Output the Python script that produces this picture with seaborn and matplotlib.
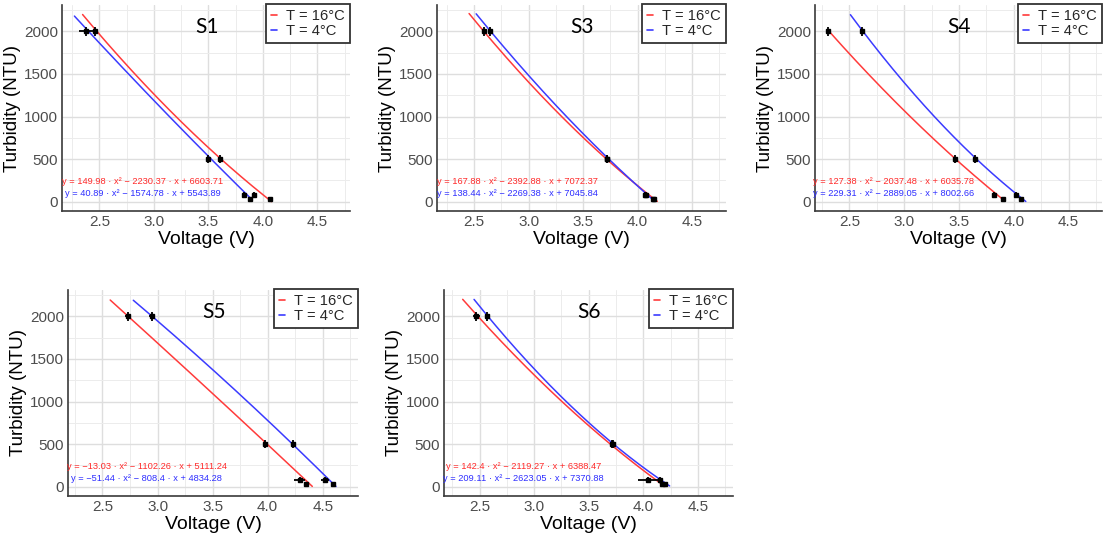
import numpy as np
import pandas as pd
import matplotlib
matplotlib.use("Agg")
import matplotlib.pyplot as plt
from matplotlib.ticker import MultipleLocator
import seaborn as sns

sns.set_theme(style="white")
plt.rcParams["font.family"] = ["Liberation Sans", "DejaVu Sans"]

# ---------------------------------------------------------------- data
samples = ["S1", "S3", "S4", "S5", "S6"]
temp_labels = ["T = 16°C", "T = 4°C"]
turbidity = [2000, 500, 80, 30]          # NTU standards

# mean sensor voltage (V) at each standard, per sample and temperature
s1_v16 = [2.46, 3.61, 3.92, 4.07]
s1_v4 = [2.38, 3.50, 3.83, 3.88]
s3_v16 = [2.59, 3.72, 4.07, 4.15]
s3_v4 = [2.65, 3.72, 4.08, 4.14]
s4_v16 = [2.31, 3.46, 3.82, 3.90]
s4_v4 = [2.62, 3.65, 4.02, 4.07]
s5_v16 = [2.73, 3.98, 4.29, 4.35]
s5_v4 = [2.95, 4.23, 4.52, 4.59]
s6_v16 = [2.47, 3.71, 4.04, 4.17]
s6_v4 = [2.57, 3.72, 4.15, 4.20]

# spread of the replicate voltage readings (V)
s1_err16 = [0.02, 0.015, 0.015, 0.01]
s1_err4 = [0.07, 0.015, 0.015, 0.01]
s3_err16 = [0.02, 0.015, 0.015, 0.01]
s3_err4 = [0.02, 0.015, 0.015, 0.01]
s4_err16 = [0.02, 0.015, 0.015, 0.01]
s4_err4 = [0.02, 0.02, 0.015, 0.01]
s5_err16 = [0.03, 0.025, 0.05, 0.01]
s5_err4 = [0.03, 0.015, 0.04, 0.01]
s6_err16 = [0.03, 0.015, 0.09, 0.01]
s6_err4 = [0.02, 0.015, 0.02, 0.01]
# spread of the turbidity standards (NTU)
turb_err = [55, 50, 30, 20]

# quadratic calibration fits: a*x^2 + b*x + c
s1_fit16 = [149.98, -2230.37, 6603.71]
s1_fit4 = [40.89, -1574.78, 5543.89]
s3_fit16 = [167.88, -2392.88, 7072.37]
s3_fit4 = [138.44, -2269.38, 7045.84]
s4_fit16 = [127.38, -2037.48, 6035.78]
s4_fit4 = [229.31, -2889.05, 8002.66]
s5_fit16 = [-13.03, -1102.26, 5111.24]
s5_fit4 = [-51.44, -808.4, 4834.28]
s6_fit16 = [142.4, -2119.27, 6388.47]
s6_fit4 = [209.11, -2623.05, 7370.88]

# voltage span covered by each fitted curve
s1_span16, s1_span4 = [2.345, 4.08], [2.27, 3.89]
s3_span16, s3_span4 = [2.455, 4.18], [2.52, 4.15]
s4_span16, s4_span4 = [2.31, 3.905], [2.51, 4.11]
s5_span16, s5_span4 = [2.57, 4.405], [2.78, 4.62]
s6_span16, s6_span4 = [2.346, 4.199], [2.45, 4.24]

panels = [
    ("S1", s1_v16, s1_v4, s1_err16, s1_err4, s1_fit16, s1_fit4, s1_span16, s1_span4),
    ("S3", s3_v16, s3_v4, s3_err16, s3_err4, s3_fit16, s3_fit4, s3_span16, s3_span4),
    ("S4", s4_v16, s4_v4, s4_err16, s4_err4, s4_fit16, s4_fit4, s4_span16, s4_span4),
    ("S5", s5_v16, s5_v4, s5_err16, s5_err4, s5_fit16, s5_fit4, s5_span16, s5_span4),
    ("S6", s6_v16, s6_v4, s6_err16, s6_err4, s6_fit16, s6_fit4, s6_span16, s6_span4),
]

# ---------------------------------------------------------------- layout
W, H, DPI = 1112, 534, 100
# axes boxes in pixels: left, top, right, bottom
boxes = {
    "S1": (62, 5, 350, 211),
    "S3": (437, 5, 726, 211),
    "S4": (815, 5, 1102, 211),
    "S5": (68, 290, 358, 496),
    "S6": (444, 290, 733, 496),
}
xlims = {
    "S1": (2.156, 4.80),
    "S3": (2.161, 4.81),
    "S4": (2.187, 4.805),
    "S5": (2.187, 4.82),
    "S6": (2.175, 4.82),
}
line_colors = {"T = 16°C": "#ff3b3b", "T = 4°C": "#3b3bff"}
text_colors = {"T = 16°C": "#ff2a2a", "T = 4°C": "#2e2eff"}


def fmt_num(v):
    return f"{abs(v):.2f}".rstrip("0").rstrip(".")


def equation(coef):
    a, b, c = coef
    lead = "−" if a < 0 else ""
    sb = "−" if b < 0 else "+"
    sc = "−" if c < 0 else "+"
    return (f"y = {lead}{fmt_num(a)} · x² {sb} {fmt_num(b)} · x "
            f"{sc} {fmt_num(c)}")


fig = plt.figure(figsize=(W / DPI, H / DPI), dpi=DPI)
fig.patch.set_facecolor("white")

for name, v16, v4, e16, e4, f16, f4, sp16, sp4 in panels:
    l, t, r, b = boxes[name]
    ax = fig.add_axes([l / W, 1 - b / H, (r - l) / W, (b - t) / H])

    # fitted calibration curves
    rows = []
    for lab, coef, span in ((temp_labels[0], f16, sp16),
                            (temp_labels[1], f4, sp4)):
        xs = np.linspace(span[0], span[1], 200)
        ys = np.polyval(coef, xs)
        rows.append(pd.DataFrame({"Voltage": xs, "Turbidity": ys,
                                  "Temperature": lab}))
    curves = pd.concat(rows, ignore_index=True)
    sns.lineplot(data=curves, x="Voltage", y="Turbidity", hue="Temperature",
                 palette=line_colors, linewidth=1.1, ax=ax, sort=False,
                 estimator=None, zorder=3)

    # measured points with replicate spread
    for volts, verr in ((v16, e16), (v4, e4)):
        ax.errorbar(volts, turbidity, xerr=verr, yerr=turb_err,
                    fmt="s", ms=2.6, color="black", ecolor="black",
                    elinewidth=1.3, capsize=0, zorder=4)

    # fit equations
    ax.text(2.90, 235, equation(f16), color=text_colors[temp_labels[0]],
            fontsize=6.7, ha="center", va="center", zorder=5)
    ax.text(2.90, 92, equation(f4), color=text_colors[temp_labels[1]],
            fontsize=6.7, ha="center", va="center", zorder=5)

    # panel tag
    ax.text(0.503, 0.895, name, transform=ax.transAxes, fontsize=15,
            family=["Lato", "DejaVu Sans"], ha="center", va="center",
            color="black")

    ax.set_xlim(*xlims[name])
    ax.set_ylim(-110, 2310)
    ax.xaxis.set_major_locator(MultipleLocator(0.5))
    ax.xaxis.set_minor_locator(MultipleLocator(0.25))
    ax.yaxis.set_major_locator(MultipleLocator(500))
    ax.yaxis.set_minor_locator(MultipleLocator(250))
    ax.xaxis.set_major_formatter(plt.FuncFormatter(lambda v, p: f"{v:.1f}"))
    ax.grid(which="major", color="#dedede", linewidth=1.0)
    ax.grid(which="minor", color="#ececec", linewidth=0.7)
    ax.set_axisbelow(True)
    ax.set_facecolor("white")
    for side in ("top", "right"):
        ax.spines[side].set_visible(False)
    for side in ("left", "bottom"):
        ax.spines[side].set_color("#3a3a3a")
        ax.spines[side].set_linewidth(1.2)
    ax.tick_params(which="both", length=0, labelsize=11,
                   labelcolor="#4d4d4d", pad=3)
    ax.set_xlabel("Voltage (V)", fontsize=14, color="black", labelpad=1)
    ax.set_ylabel("Turbidity (NTU)", fontsize=13.5, color="black",
                  labelpad=2)

    leg = ax.legend(title=None, loc="upper right", bbox_to_anchor=(1.0, 1.005),
                    borderaxespad=0, fontsize=10.6, handlelength=0.4,
                    handletextpad=0.6, labelspacing=0.05, borderpad=0.35,
                    frameon=True, fancybox=False, framealpha=1)
    leg.get_frame().set_edgecolor("#333333")
    leg.get_frame().set_linewidth(1.3)
    for h in leg.get_lines():
        h.set_linewidth(1.2)

fig.savefig("out.png", dpi=DPI, facecolor="white")
